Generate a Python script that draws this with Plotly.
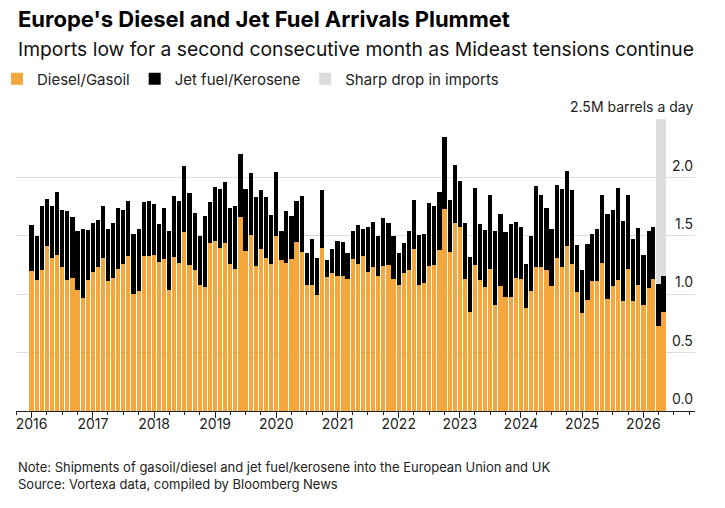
import plotly.graph_objects as go
import pandas as pd

# ---- data (million barrels a day), monthly Jan 2016 - May 2026 ----
months = pd.date_range("2016-01-01", periods=125, freq="MS")

diesel = [
    1.20, 1.12, 1.21, 1.41, 1.31, 1.34, 1.23, 1.12, 1.14, 1.04, 0.97, 1.12,  # 2016
    1.19, 1.23, 1.31, 1.11, 1.14, 1.22, 1.26, 1.33, 1.00, 1.03, 1.33, 1.33,  # 2017
    1.34, 1.28, 1.30, 1.04, 1.32, 1.27, 1.53, 1.25, 1.21, 1.08, 1.06, 1.44,  # 2018
    1.46, 1.40, 1.44, 1.26, 1.22, 1.66, 1.37, 1.51, 1.24, 1.39, 1.31, 1.26,  # 2019
    1.50, 1.29, 1.27, 1.30, 1.45, 1.36, 1.08, 1.08, 0.99, 1.40, 1.15, 1.18,  # 2020
    1.16, 1.16, 1.13, 1.30, 1.26, 1.33, 1.19, 1.23, 1.16, 1.24, 1.25, 1.13,  # 2021
    1.08, 1.18, 1.21, 1.39, 1.08, 1.10, 1.24, 1.25, 1.38, 1.73, 1.36, 1.61,  # 2022
    1.58, 1.13, 0.85, 1.25, 1.12, 1.06, 1.22, 0.91, 1.07, 0.98, 0.98, 1.14,  # 2023
    1.13, 0.88, 1.03, 1.23, 1.23, 1.21, 1.07, 1.31, 1.23, 1.41, 1.26, 1.02,  # 2024
    0.84, 0.95, 1.11, 1.11, 1.27, 0.96, 1.07, 1.12, 0.94, 1.22, 0.94, 1.08,  # 2025
    0.91, 1.05, 1.13, 0.73, 0.85,                                            # 2026
]
jet = [
    0.39, 0.38, 0.55, 0.41, 0.45, 0.54, 0.49, 0.59, 0.52, 0.50, 0.59, 0.43,  # 2016
    0.42, 0.41, 0.45, 0.45, 0.47, 0.52, 0.46, 0.47, 0.52, 0.53, 0.46, 0.47,  # 2017
    0.43, 0.32, 0.44, 0.50, 0.52, 0.53, 0.57, 0.62, 0.49, 0.42, 0.61, 0.35,  # 2018
    0.46, 0.50, 0.52, 0.48, 0.54, 0.54, 0.53, 0.53, 0.59, 0.50, 0.52, 0.42,  # 2019
    0.55, 0.25, 0.44, 0.37, 0.35, 0.48, 0.27, 0.39, 0.32, 0.49, 0.14, 0.21,  # 2020
    0.30, 0.29, 0.22, 0.24, 0.33, 0.23, 0.39, 0.39, 0.34, 0.41, 0.36, 0.37,  # 2021
    0.27, 0.26, 0.33, 0.42, 0.43, 0.42, 0.54, 0.51, 0.50, 0.62, 0.45, 0.50,  # 2022
    0.39, 0.48, 0.47, 0.66, 0.48, 0.49, 0.63, 0.63, 0.62, 0.55, 0.62, 0.48,  # 2023
    0.45, 0.38, 0.47, 0.70, 0.62, 0.53, 0.49, 0.63, 0.67, 0.65, 0.63, 0.40,  # 2024
    0.37, 0.48, 0.41, 0.45, 0.58, 0.73, 0.65, 0.79, 0.69, 0.63, 0.53, 0.49,  # 2025
    0.43, 0.49, 0.45, 0.36, 0.31,                                            # 2026
]

drop_start = "2026-03-18"
drop_end = "2026-05-15"

y_ticks = [0, 0.5, 1.0, 1.5, 2.0, 2.5]
y_labels = ["0.0", "0.5", "1.0", "1.5", "2.0", "2.5M barrels a day"]

title = "Europe's Diesel and Jet Fuel Arrivals Plummet"
subtitle = "Imports low for a second consecutive month as Mideast tensions continue"
note = "Note: Shipments of gasoil/diesel and jet fuel/kerosene into the European Union and UK"
source = "Source: Vortexa data, compiled by Bloomberg News"

ORANGE = "#F5A63D"
BLACK = "#000000"
GREY = "#DCDCDC"
FONT = "Inter"

W, H = 725, 508
ML, MR, MT, MB = 16, 30, 119, 97
plot_h = H - MT - MB


def py(ypx):
    """pixel row from top -> paper y"""
    return (H - MB - ypx) / plot_h


bar_w = 25 * 86400000

fig = go.Figure()
fig.add_trace(go.Bar(x=months, y=diesel, name="Diesel/Gasoil",
                     marker=dict(color=ORANGE, line=dict(width=0)),
                     width=[bar_w] * len(months), legendrank=1))
fig.add_trace(go.Bar(x=months, y=jet, name="Jet fuel/Kerosene",
                     marker=dict(color=BLACK, line=dict(width=0)),
                     width=[bar_w] * len(months), legendrank=2))

fig.add_shape(type="rect", xref="x", yref="y", x0=drop_start, x1=drop_end,
              y0=0, y1=2.5, fillcolor=GREY, line=dict(width=0), layer="below",
              showlegend=True, name="Sharp drop in imports", legendrank=3)

annotations = [
    dict(text=f"<b>{title}</b>", x=0, y=py(19), xref="paper", yref="paper",
         xanchor="left", yanchor="middle", showarrow=False,
         font=dict(size=22, color="#000", family=FONT)),
    dict(text=subtitle, x=0, y=py(49), xref="paper", yref="paper",
         xanchor="left", yanchor="middle", showarrow=False,
         font=dict(size=19.3, color="#111", family=FONT)),
    dict(text=note, x=0, y=py(467), xref="paper", yref="paper",
         xanchor="left", yanchor="middle", showarrow=False,
         font=dict(size=13, color="#222", family=FONT)),
    dict(text=source, x=0, y=py(484), xref="paper", yref="paper",
         xanchor="left", yanchor="middle", showarrow=False,
         font=dict(size=13, color="#222", family=FONT)),
]
for v, lab in zip(y_ticks, y_labels):
    annotations.append(dict(text=lab, x=1, y=v, xref="paper", yref="y",
                            xanchor="right", yanchor="bottom", yshift=2,
                            showarrow=False,
                            font=dict(size=14, color="#222", family=FONT)))

fig.update_layout(
    width=W, height=H, autosize=False,
    margin=dict(l=ML, r=MR, t=MT, b=MB, pad=0, autoexpand=False),
    paper_bgcolor="white", plot_bgcolor="white",
    barmode="stack",
    font=dict(family=FONT, color="#222"),
    showlegend=True,
    legend=dict(orientation="h", x=-0.028, y=py(79), xanchor="left",
                yanchor="middle", traceorder="normal",
                font=dict(size=15, color="#222", family=FONT),
                bgcolor="rgba(0,0,0,0)", itemclick=False),
    annotations=annotations,
)
fig.update_xaxes(
    type="date", range=["2015-09-30", "2026-11-05"],
    tick0="2016-01-01", dtick="M12", tickformat="%Y",
    ticks="outside", ticklen=6, tickcolor="#222", tickwidth=1,
    ticklabelstandoff=-6,
    minor=dict(dtick="M3", tick0="2016-01-01", ticks="outside",
               ticklen=3, tickcolor="#222", showgrid=False),
    showline=True, linecolor="#222", linewidth=1,
    showgrid=False, zeroline=False,
    tickfont=dict(size=14, color="#222", family=FONT),
    fixedrange=True,
)
fig.update_yaxes(
    range=[0, 2.502], tickvals=y_ticks, showticklabels=False,
    showgrid=True, gridcolor="#DDDDDD", gridwidth=1,
    zeroline=False, showline=False, ticks="", fixedrange=True,
)

fig.write_html("out.html")
